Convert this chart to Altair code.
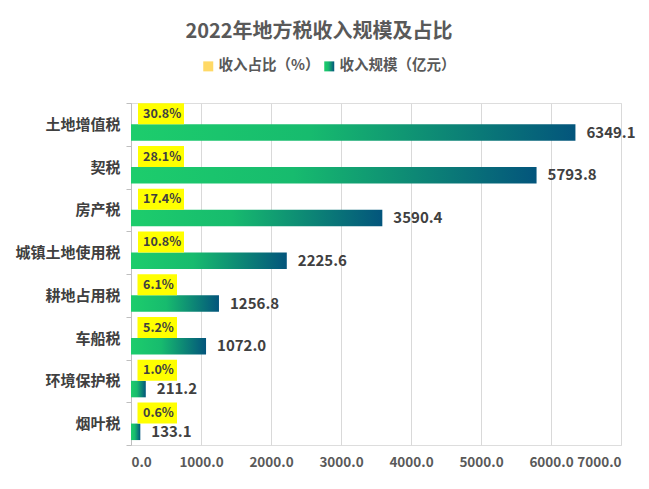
import altair as alt
import pandas as pd

categories = ["土地增值税", "契税", "房产税", "城镇土地使用税", "耕地占用税", "车船税", "环境保护税", "烟叶税"]
values = [6349.1, 5793.8, 3590.4, 2225.6, 1256.8, 1072.0, 211.2, 133.1]
pcts = [30.8, 28.1, 17.4, 10.8, 6.1, 5.2, 1.0, 0.6]
series_names = ["收入占比（%）", "收入规模（亿元）"]
x_ticks = [0, 1000, 2000, 3000, 4000, 5000, 6000, 7000]

df = pd.DataFrame({"category": categories, "value": values, "pct": pcts})

FONT = "Noto Sans CJK SC"
TXT = "#595959"
DARK = "#404040"

grad_expr = ("{gradient: 'linear', x1: 0, y1: 0, x2: 1, y2: 0, stops: ["
             "{offset: 0, color: '#1dcd6c'}, {offset: 0.4, color: '#17bb6e'}, "
             "{offset: 1, color: '#03557c'}]}")

y_enc = alt.Y(
    "category:N", sort=categories,
    scale=alt.Scale(paddingInner=0, paddingOuter=0),
    axis=alt.Axis(title=None, domain=True, domainColor="#bfbfbf", ticks=True,
                  tickColor="#bfbfbf", tickSize=5, tickBand="extent",
                  labelFont=FONT, labelFontSize=15, labelFontWeight="bold",
                  labelColor=DARK, labelPadding=6, grid=False),
)

x_enc = alt.X(
    "value:Q",
    scale=alt.Scale(domain=[0, 7000], nice=False),
    axis=alt.Axis(title=None, values=x_ticks, format=".1f", domain=False, ticks=False,
                  grid=True, gridColor="#d9d9d9", labelFont=FONT, labelFontSize=13.5,
                  labelFontWeight="bold", labelColor=TXT, labelPadding=10),
)

base = alt.Chart(df)

bars = base.transform_calculate(series="'收入规模（亿元）'").mark_bar(
    height=16.5, yOffset=8.2
).encode(
    x=x_enc,
    y=y_enc,
    color=alt.Color(
        "series:N",
        scale=alt.Scale(domain=series_names, range=["#ffd966", alt.ExprRef(grad_expr)]),
        legend=alt.Legend(title=None, orient="none", legendX=70, legendY=-44,
                          direction="horizontal", symbolType="square", symbolSize=100,
                          symbolStrokeWidth=0, labelFont=FONT, labelFontSize=14.5,
                          labelFontWeight="bold", labelColor=TXT, labelOffset=3,
                          columnPadding=2, padding=0),
    ),
)

lab = base.transform_calculate(label="format(datum.pct, '.1f') + '%'")

box5 = lab.transform_filter("length(datum.label) >= 5").mark_bar(
    color="#ffff00", height=21, yOffset=-10.6, xOffset=7, x2Offset=53
).encode(x=alt.datum(0), x2=alt.datum(0), y=y_enc)

box4 = lab.transform_filter("length(datum.label) < 5").mark_bar(
    color="#ffff00", height=21, yOffset=-10.6, xOffset=6.5, x2Offset=46
).encode(x=alt.datum(0), x2=alt.datum(0), y=y_enc)

box_text = lab.mark_text(
    align="left", baseline="middle", dx=12, yOffset=-10.6, font=FONT,
    fontSize=12.5, fontWeight="bold", color=DARK
).encode(x=alt.datum(0), y=y_enc, text="label:N")

val_text = base.mark_text(
    align="left", baseline="middle", dx=11, yOffset=8.2, font=FONT,
    fontSize=15, fontWeight="bold", color=DARK
).encode(x="value:Q", y=y_enc, text=alt.Text("value:Q", format=".1f"))

chart = alt.layer(bars, box5, box4, box_text, val_text).properties(
    width=490, height=342,
    padding={"left": 123, "top": 95, "right": 18, "bottom": 30},
    autosize=alt.AutoSizeParams(type="none"),
    title=alt.TitleParams(text="2022年地方税收入规模及占比", font=FONT, fontSize=20,
                          fontWeight="bold", color=TXT, anchor="middle", dx=-57, offset=17),
).configure_view(stroke=None).configure(background="white")

chart.save("out.html", embed_options={"renderer": "svg", "actions": False})
